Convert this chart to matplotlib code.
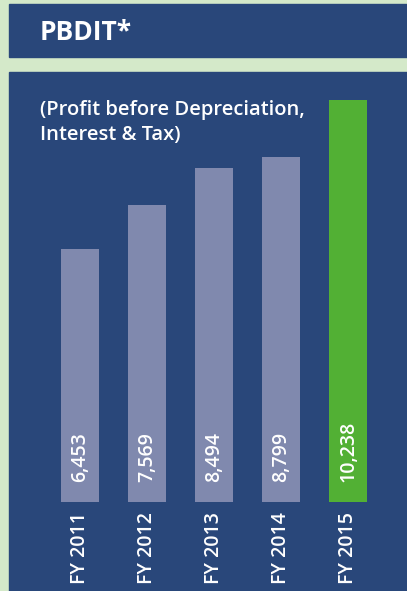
import matplotlib
matplotlib.use("Agg")
import matplotlib.pyplot as plt
from matplotlib.patches import Rectangle

years = ["FY 2011", "FY 2012", "FY 2013", "FY 2014", "FY 2015"]
pbdit = [6453, 7569, 8494, 8799, 10238]
labels = ["6,453", "7,569", "8,494", "8,799", "10,238"]

bg = "#d4e9c9"
navy = "#29477a"
grey = "#8089ae"
green = "#52b034"

W, H = 407, 591
fig = plt.figure(figsize=(W / 100, H / 100), dpi=100)
fig.patch.set_facecolor(bg)
plt.rcParams['font.family'] = ['Open Sans', 'DejaVu Sans']

def px(x0, y0, w, h):
    # pixel box (top-left origin) -> figure fraction
    return (x0 / W, 1 - (y0 + h) / H, w / W, h / H)

# header box and main panel
x, y, w, h = px(9, 4, 398, 53)
fig.patches.append(Rectangle((x, y), w, h, transform=fig.transFigure, color=navy, zorder=-5))
x, y, w, h = px(9, 72, 398, 519)
fig.patches.append(Rectangle((x, y), w, h, transform=fig.transFigure, color=navy, zorder=-5))

fig.text(40 / W, 1 - 40 / H, "PBDIT*", color="white", fontsize=19, fontweight="bold",
         va="baseline", ha="left")
fig.text(40 / W, 1 - 140 / H, "(Profit before Depreciation,\nInterest & Tax)", color="white",
         fontsize=14.5, fontweight="semibold", va="baseline", ha="left", linespacing=1.3)

ax = fig.add_axes(px(9, 100, 398, 402))
ax.set_facecolor("none")
colors = [grey] * (len(pbdit) - 1) + [green]
xs = range(len(pbdit))
ax.bar(xs, pbdit, width=38 / 67, color=colors)
ax.set_xlim(-71 / 67, 327 / 67)
ax.set_ylim(0, max(pbdit))

for i, lab in enumerate(labels):
    ax.annotate(lab, (i, 0), xytext=(0, 14.5), textcoords="offset points", rotation=90,
                ha="center", va="bottom", color="white", fontsize=14, fontweight="semibold")

ax.set_xticks(list(xs))
ax.set_xticklabels(years, rotation=90, color="white", fontsize=14, fontweight="semibold")
ax.tick_params(axis="x", length=0, pad=7)
ax.set_yticks([])
for s in ax.spines.values():
    s.set_visible(False)

fig.savefig("out.png", dpi=100, facecolor=bg)
